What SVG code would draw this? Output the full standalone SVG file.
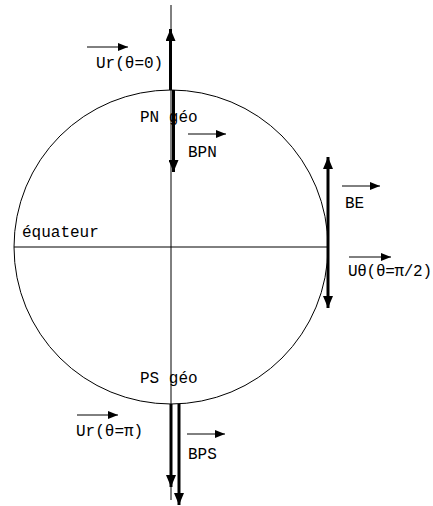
<svg xmlns="http://www.w3.org/2000/svg" width="433" height="506" viewBox="0 0 433 506">
<defs>
<marker id="sm" viewBox="0 0 10 8" refX="10" refY="4" markerWidth="10" markerHeight="8" markerUnits="userSpaceOnUse" orient="auto"><path d="M0,0 L10,4 L0,8 Z" fill="#000"/></marker>
<marker id="bg" viewBox="0 0 12 10" refX="12" refY="5" markerWidth="12" markerHeight="10" markerUnits="userSpaceOnUse" orient="auto-start-reverse"><path d="M0,0 L12,5 L0,10 Z" fill="#000"/></marker>
</defs>
<style>
text{font-family:"Liberation Mono","DejaVu Sans Mono",monospace;font-size:16px;fill:#000}
.thin{stroke:#000;stroke-width:1;fill:none}
.vec{stroke:#000;stroke-width:1;marker-end:url(#sm)}
.big{stroke:#000;stroke-width:3;marker-end:url(#bg)}
</style>
<rect width="433" height="506" fill="#fff"/>
<g id="earth">
<circle cx="171" cy="247" r="157" class="thin"/>
</g>
<g id="connectors">
<line x1="171" y1="5" x2="171" y2="500" class="thin" stroke="#444"/>
<line x1="14" y1="247" x2="328" y2="247" class="thin" stroke="#444"/>
<line x1="170.5" y1="90" x2="170.5" y2="29" class="big"/>
<line x1="173.5" y1="90" x2="173.5" y2="172" class="big"/>
<line x1="171" y1="404" x2="171" y2="487" class="big"/>
<line x1="179" y1="404" x2="179" y2="505" class="big"/>
<line x1="328" y1="157" x2="328" y2="308" class="big" marker-start="url(#bg)"/>
<line x1="87" y1="47" x2="128" y2="47" class="vec"/>
<line x1="188" y1="134" x2="226" y2="134" class="vec"/>
<line x1="342" y1="186" x2="380" y2="186" class="vec"/>
<line x1="349" y1="257" x2="391" y2="257" class="vec"/>
<line x1="77" y1="415" x2="118" y2="415" class="vec"/>
<line x1="187" y1="434" x2="225" y2="434" class="vec"/>
</g>
<g id="labels">
<text x="96" y="68">Ur(θ=0)</text>
<text x="140" y="122">PN géo</text>
<text x="188" y="157">BPN</text>
<text x="345" y="208">BE</text>
<text x="22" y="237">équateur</text>
<text x="348" y="276" textLength="84">Uθ(θ=π/2)</text>
<text x="140" y="383">PS géo</text>
<text x="76" y="436">Ur(θ=π)</text>
<text x="188" y="459">BPS</text>
</g>
</svg>
